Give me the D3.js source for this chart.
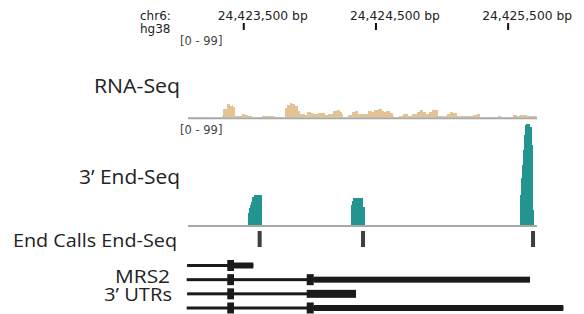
<!DOCTYPE html>
<html>
<head>
<meta charset="utf-8">
<script src="https://cdn.jsdelivr.net/npm/d3@7"></script>
<style>
  html, body { margin: 0; padding: 0; background: #fff; }
  svg { display: block; }
</style>
</head>
<body>
<svg id="chart" width="584" height="314"></svg>
<script>
// ---------------- DATA ----------------
const chrom = "chr6:";
const genome = "hg38";
const chromOffset = 24423000;                 // positions below are bp offsets from this
const viewRange = [82, 2722];                 // visible window (bp offsets)
const rulerTicks = [24423500, 24424500, 24425500];
const rulerLabels = ["24,423,500 bp", "24,424,500 bp", "24,425,500 bp"];
const dataRangeLabel = "[0 - 99]";
const dataMax = 99;

const trackNames = ["RNA-Seq", "3\u2019 End-Seq", "End Calls End-Seq"];
const geneTrackName = ["MRS2", "3\u2019 UTRs"];

// RNA-Seq coverage: [start, end, value]
const rnaStart = [337,349,375,400,413,425,438,488,513,538,564,639,677,715,740,816,829,854,871,891,912,929,967,980,1012,1025,1065,1118,1141,1179,1207,1232,1245,1257,1292,1320,1345,1366,1396,1441,1471,1489,1521,1547,1565,1580,1610,1630,1640,1680,1711,1748,1774,1812,1837,1857,1882,1907,1925,1950,1975,2039,2064,2089,2119,2152,2190,2215,2240,2266,2291,2379,2429,2447,2493,2505,2543,2568,2593,2618,2644];
const rnaEnd   = [349,375,400,413,425,438,488,513,538,564,639,677,715,740,816,829,854,871,891,912,929,967,980,1012,1025,1065,1118,1141,1179,1207,1232,1245,1257,1292,1320,1345,1366,1396,1441,1471,1489,1521,1547,1565,1580,1610,1630,1640,1680,1711,1748,1774,1812,1837,1857,1882,1907,1925,1950,1975,2039,2064,2089,2119,2152,2190,2215,2240,2266,2291,2379,2429,2447,2493,2505,2543,2568,2593,2618,2644,2720];
const rnaValue = [1.5,9.8,15.7,13.3,14.5,12.6,1.5,3.9,2.7,1.5,0,1.2,2,1.2,0,11.4,14.5,16.9,15.3,13,7.9,3.9,2.7,6.7,4.7,3.9,4.7,2.7,3.5,7.9,8.6,6.7,3.9,0.8,2.7,5.9,7.4,3.5,3.5,7.4,5.9,8.6,9.8,7.4,5.9,7.4,4.7,2,0,2,3.9,1.5,3.9,6.7,8.6,5.9,3.5,5.9,8.3,8.6,1.5,3.9,6.3,4.7,2,1.2,2,1.2,2.7,3.9,0,0.4,1.5,0.4,0,0.4,2.4,2,2.7,2.4,1.2];

// 3' End-Seq coverage
const endSeqStart = [536,544,551,559,566,582, 1315,1323,1332,1408, 2593,2601,2608,2616,2623,2631,2639,2669,2684,2692];
const endSeqEnd   = [544,551,559,566,582,640, 1323,1332,1408,1421, 2601,2608,2616,2623,2631,2639,2669,2684,2692,2699];
const endSeqValue = [12,17,20,23,27,29, 20,24,26.5,18, 29,46,59,74,88,98,99,96,78,15];

// End calls (bp offsets)
const endCalls = [624, 1406, 2692];

// MRS2 3' UTR transcripts
const txStart = [75, 72, 75, 72];
const txEnd   = [576, 2669, 1353, 2921];
const txBlocks = [
  [["cds",379,430],["utr",430,576]],
  [["cds",379,430],["cds",980,1033],["utr",1033,2669]],
  [["cds",379,430],["utrB",980,1353]],
  [["cds",379,430],["cds",980,1033],["utr",1033,2921]]
];

// ---------------- DRAW ----------------
const svg = d3.select("#chart");
const x = d3.scaleLinear().domain(viewRange.map(d => d + chromOffset)).range([188, 537]);
const bp = d => x(d + chromOffset);

const labelFont = "'Open Sans', 'Noto Sans', sans-serif";
const smallFont = "'DejaVu Sans', sans-serif";

// ruler
svg.append("text").attr("x", 140).attr("y", 20).attr("font-family", smallFont)
  .attr("font-size", 12).attr("fill", "#222").text(chrom);
svg.append("text").attr("x", 140).attr("y", 33).attr("font-family", smallFont)
  .attr("font-size", 12).attr("fill", "#222").text(genome);

const rulerAxis = d3.axisTop(x).tickValues(rulerTicks).tickFormat("").tickSize(0);
const rulerG = svg.append("g").attr("transform", "translate(0,30)").call(rulerAxis);
rulerG.select(".domain").remove();
rulerG.selectAll(".tick").append("rect")
  .attr("x", -1).attr("y", -7).attr("width", 2).attr("height", 7).attr("fill", "#111");
rulerG.selectAll(".tick").append("text").data(rulerLabels)
  .attr("x", -26).attr("y", -10.5).attr("text-anchor", "start")
  .attr("font-family", smallFont).attr("font-size", 12.3).attr("fill", "#222")
  .text(d => d);

// RNA-seq track
const yRna = d3.scaleLinear().domain([0, dataMax]).range([117.3, 33]);
svg.append("text").attr("x", 180).attr("y", 45).attr("font-family", smallFont)
  .attr("font-size", 11.5).attr("fill", "#444").text(dataRangeLabel);
svg.append("g").selectAll("rect").data(d3.range(rnaStart.length).filter(i => rnaValue[i] > 0))
  .join("rect")
  .attr("x", i => bp(rnaStart[i])).attr("width", i => bp(rnaEnd[i]) - bp(rnaStart[i]))
  .attr("y", i => yRna(rnaValue[i])).attr("height", i => yRna(0) - yRna(rnaValue[i]))
  .attr("fill", "#e3c393").attr("shape-rendering", "crispEdges");
svg.append("line").attr("x1", bp(viewRange[0])).attr("x2", bp(viewRange[1]))
  .attr("y1", 118.3).attr("y2", 118.3).attr("stroke", "#a8a8a8").attr("stroke-width", 2);

// 3' End-seq track
const yEnd = d3.scaleLinear().domain([0, dataMax]).range([225, 124]);
svg.append("text").attr("x", 180).attr("y", 134).attr("font-family", smallFont)
  .attr("font-size", 11.5).attr("fill", "#444").text(dataRangeLabel);
svg.append("g").selectAll("rect").data(d3.range(endSeqStart.length))
  .join("rect")
  .attr("x", i => bp(endSeqStart[i])).attr("width", i => bp(endSeqEnd[i]) - bp(endSeqStart[i]))
  .attr("y", i => yEnd(endSeqValue[i])).attr("height", i => yEnd(0) - yEnd(endSeqValue[i]))
  .attr("fill", "#23948f").attr("shape-rendering", "crispEdges");
svg.append("line").attr("x1", bp(viewRange[0])).attr("x2", bp(viewRange[1]))
  .attr("y1", 226).attr("y2", 226).attr("stroke", "#a8a8a8").attr("stroke-width", 2);

// End calls
svg.append("g").selectAll("rect").data(endCalls).join("rect")
  .attr("x", d => bp(d) - 2).attr("width", 4).attr("y", 231).attr("height", 16)
  .attr("fill", "#3f3f3f");

// Gene track
const rowY = d3.scalePoint().domain(d3.range(txStart.length)).range([265.5, 308]);
const blockH = { cds: 11, utr: 6, utrB: 8 };
const tx = svg.append("g").selectAll("g").data(d3.range(txStart.length)).join("g");
tx.append("rect")
  .attr("x", i => bp(txStart[i])).attr("width", i => bp(txEnd[i]) - bp(txStart[i]))
  .attr("y", i => rowY(i) - 1.5).attr("height", 3).attr("fill", "#1a1a1a");
tx.selectAll("rect.blk").data(i => txBlocks[i].map(b => ({ row: i, type: b[0], s: b[1], e: b[2] })))
  .join("rect").attr("class", "blk")
  .attr("x", d => bp(d.s)).attr("width", d => bp(d.e) - bp(d.s))
  .attr("y", d => rowY(d.row) - blockH[d.type] / 2).attr("height", d => blockH[d.type])
  .attr("fill", "#1a1a1a");

// Track labels
const labels = [
  { t: trackNames[0], y: 93, w: 86, r: 180, fs: 20 },
  { t: trackNames[1], y: 184, w: 101, r: 180, fs: 20 },
  { t: trackNames[2], y: 247, w: 164, r: 177, fs: 19 },
  { t: geneTrackName[0], y: 283, w: 55, r: 170, fs: 19 },
  { t: geneTrackName[1], y: 301, w: 68, r: 172, fs: 19 }
];
svg.append("g").selectAll("text").data(labels).join("text")
  .attr("x", d => d.r).attr("y", d => d.y).attr("text-anchor", "end")
  .attr("font-family", labelFont).attr("font-size", d => d.fs).attr("fill", "#222")
  .attr("textLength", d => d.w).attr("lengthAdjust", "spacingAndGlyphs")
  .text(d => d.t);
</script>
</body>
</html>
